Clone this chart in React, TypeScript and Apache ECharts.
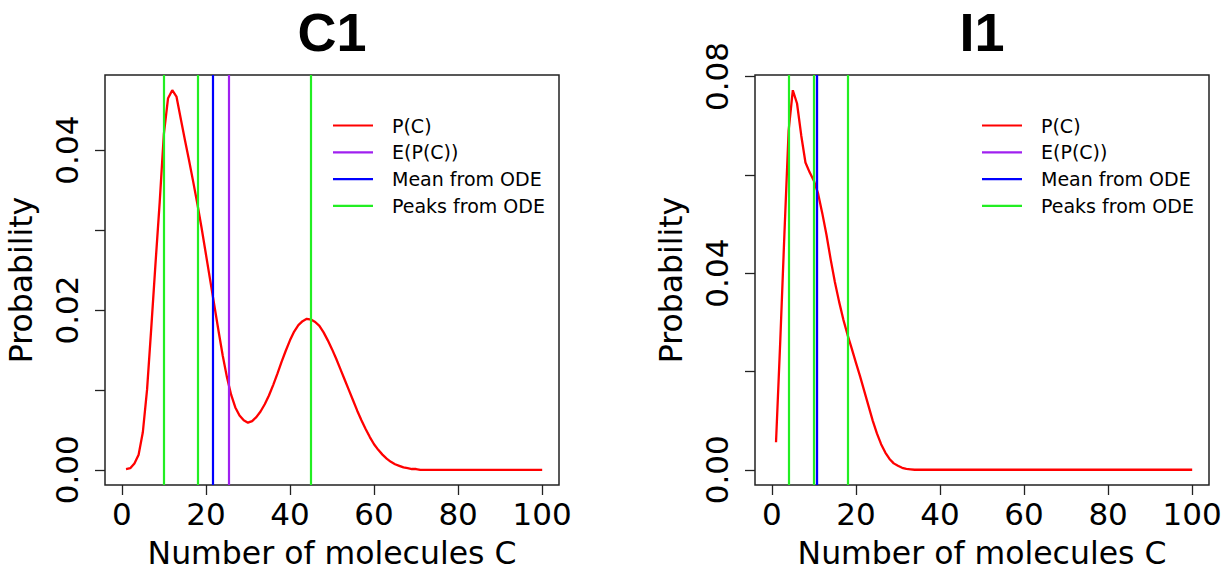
import React, { useEffect, useRef } from "react";
import * as echarts from "echarts";

// ---- data ----
const moleculeCounts = [
  1, 2, 3, 4, 5, 6, 7, 8, 9, 10, 11, 12, 13, 14, 15, 16, 17, 18, 19, 20,
  21, 22, 23, 24, 25, 26, 27, 28, 29, 30, 31, 32, 33, 34, 35, 36, 37, 38, 39, 40,
  41, 42, 43, 44, 45, 46, 47, 48, 49, 50, 51, 52, 53, 54, 55, 56, 57, 58, 59, 60,
  61, 62, 63, 64, 65, 66, 67, 68, 69, 70, 71, 72, 73, 74, 75, 76, 77, 78, 79, 80,
  81, 82, 83, 84, 85, 86, 87, 88, 89, 90, 91, 92, 93, 94, 95, 96, 97, 98, 99, 100,
];

const c1Probability = [
  0.0001, 0.0002, 0.0008, 0.0019, 0.0047, 0.01, 0.0177, 0.0257, 0.0334, 0.042,
  0.0465, 0.0475, 0.0467, 0.044, 0.0413, 0.0387, 0.036, 0.0332, 0.0302, 0.027,
  0.0238, 0.0206, 0.0174, 0.0143, 0.0116, 0.0094, 0.0078, 0.0068, 0.0062, 0.0059,
  0.0061, 0.0066, 0.0073, 0.0082, 0.0093, 0.0106, 0.012, 0.0135, 0.0149, 0.0162,
  0.0173, 0.0181, 0.0186, 0.0189, 0.0188, 0.0185, 0.018, 0.0172, 0.0162, 0.0151,
  0.0139, 0.0126, 0.0113, 0.01, 0.0087, 0.0074, 0.0062, 0.0051, 0.0041, 0.0032,
  0.0025, 0.0019, 0.0014, 0.001, 0.0007, 0.0005, 0.0003, 0.0002, 0.0001, 0.0001,
  0, 0, 0, 0, 0, 0, 0, 0, 0, 0,
  0, 0, 0, 0, 0, 0, 0, 0, 0, 0,
  0, 0, 0, 0, 0, 0, 0, 0, 0, 0,
];

const i1Probability = [
  0.0056, 0.026, 0.048, 0.069, 0.0772, 0.0745, 0.068, 0.0625, 0.0605, 0.0588,
  0.0562, 0.0522, 0.0478, 0.0428, 0.0382, 0.0342, 0.0306, 0.0275, 0.0247, 0.0218,
  0.019, 0.016, 0.013, 0.01, 0.0074, 0.0052, 0.0035, 0.0022, 0.0013, 0.0008,
  0.0004, 0.0002, 0.0001, 0, 0, 0, 0, 0, 0, 0,
  0, 0, 0, 0, 0, 0, 0, 0, 0, 0,
  0, 0, 0, 0, 0, 0, 0, 0, 0, 0,
  0, 0, 0, 0, 0, 0, 0, 0, 0, 0,
  0, 0, 0, 0, 0, 0, 0, 0, 0, 0,
  0, 0, 0, 0, 0, 0, 0, 0, 0, 0,
  0, 0, 0, 0, 0, 0, 0, 0, 0, 0,
];

const c1Expectation = [25.4];
const c1OdeMean = [21.7];
const c1OdePeaks = [10, 18, 45];

const i1Expectation = [10.6];
const i1OdeMean = [10.75];
const i1OdePeaks = [4, 10, 18];

const xTicks = [0, 20, 40, 60, 80, 100];
const c1YTicks = [0, 0.01, 0.02, 0.03, 0.04];
const c1YLabels = [0, 0.02, 0.04];
const i1YTicks = [0, 0.02, 0.04, 0.06, 0.08];
const i1YLabels = [0, 0.04, 0.08];

const panelTitles = ["C1", "I1"];
const legendNames = ["P(C)", "E(P(C))", "Mean from ODE", "Peaks from ODE"];
const legendColors = ["#FF0000", "#A020F0", "#0000FF", "#22EE22"];

const FONT = "DejaVu Sans";
const TITLE_FONT = "Liberation Sans";

export default function App() {
  const ref = useRef<HTMLDivElement>(null);

  useEffect(() => {
    if (!ref.current) return;
    const chart = echarts.init(ref.current, undefined, { renderer: "svg" });

    const panels = [
      {
        left: 105,
        probs: c1Probability,
        yMin: -0.0019,
        yMax: 0.0494,
        yTicks: c1YTicks,
        yLabels: c1YLabels,
        expectation: c1Expectation,
        mean: c1OdeMean,
        peaks: c1OdePeaks,
      },
      {
        left: 755,
        probs: i1Probability,
        yMin: -0.0031,
        yMax: 0.0803,
        yTicks: i1YTicks,
        yLabels: i1YLabels,
        expectation: i1Expectation,
        mean: i1OdeMean,
        peaks: i1OdePeaks,
      },
    ];
    const gridWidth = 454;
    const gridTop = 75;
    const gridHeight = 411;

    const grid = panels.map((p) => ({
      left: p.left,
      top: gridTop,
      width: gridWidth,
      height: gridHeight,
      show: true,
      borderColor: "#222",
      borderWidth: 1.5,
      backgroundColor: "transparent",
    }));

    const xAxis = panels.map((p, i) => ({
      type: "value",
      gridIndex: i,
      min: -4,
      max: 104,
      axisLine: { show: false, onZero: false },
      splitLine: { show: false },
      axisTick: {
        show: true,
        length: 10,
        customValues: xTicks,
        lineStyle: { color: "#222", width: 1.3 },
      },
      axisLabel: {
        customValues: xTicks,
        fontSize: 31,
        color: "#000",
        fontFamily: FONT,
        margin: 13,
      },
      name: "Number of molecules C",
      nameLocation: "middle",
      nameGap: 52,
      nameTextStyle: { fontSize: 31.5, color: "#000", fontFamily: FONT },
    }));

    const yAxis = panels.map((p, i) => ({
      type: "value",
      gridIndex: i,
      min: p.yMin,
      max: p.yMax,
      axisLine: { show: false, onZero: false },
      splitLine: { show: false },
      axisTick: {
        show: true,
        length: 10,
        customValues: p.yTicks,
        lineStyle: { color: "#222", width: 1.3 },
      },
      axisLabel: {
        customValues: p.yLabels,
        rotate: 90,
        fontSize: 31,
        color: "#000",
        fontFamily: FONT,
        margin: 23,
        formatter: (v: number) => v.toFixed(2),
      },
      name: "Probability",
      nameLocation: "middle",
      nameGap: 68,
      nameTextStyle: { fontSize: 31.5, color: "#000", fontFamily: FONT },
    }));

    const vline = (name: string, color: string, xs: number[], idx: number) => ({
      name,
      type: "line",
      xAxisIndex: idx,
      yAxisIndex: idx,
      data: [],
      silent: true,
      itemStyle: { color },
      lineStyle: { color, width: 2 },
      markLine: {
        silent: true,
        symbol: ["none", "none"],
        label: { show: false },
        emphasis: { disabled: true },
        lineStyle: { color, width: 2.2, type: "solid" },
        data: xs.map((v) => ({ xAxis: v })),
      },
    });

    const series: any[] = [];
    panels.forEach((p, i) => {
      series.push({
        name: legendNames[0],
        type: "line",
        xAxisIndex: i,
        yAxisIndex: i,
        data: moleculeCounts.map((x, k) => [x, p.probs[k]]),
        showSymbol: false,
        symbol: "none",
        smooth: false,
        silent: true,
        lineStyle: { color: legendColors[0], width: 2.3 },
        itemStyle: { color: legendColors[0] },
      });
      series.push(vline(legendNames[1], legendColors[1], p.expectation, i));
      series.push(vline(legendNames[2], legendColors[2], p.mean, i));
      series.push(vline(legendNames[3], legendColors[3], p.peaks, i));
    });

    const legendGraphics: any[] = [];
    const legendOffsets = [0, 649];
    legendOffsets.forEach((off) => {
      legendNames.forEach((name, k) => {
        const y = 125.5 + k * 26.8;
        legendGraphics.push({
          type: "line",
          silent: true,
          shape: { x1: 333 + off, y1: y, x2: 373 + off, y2: y },
          style: { stroke: legendColors[k], lineWidth: 2.2 },
        });
        legendGraphics.push({
          type: "text",
          silent: true,
          x: 392 + off,
          y,
          style: {
            text: name,
            fontSize: 19,
            fontFamily: FONT,
            fill: "#000",
            verticalAlign: "middle",
            align: "left",
          },
        });
      });
    });

    const title = panelTitles.map((t, i) => ({
      text: t,
      left: panels[i].left + gridWidth / 2,
      top: 5,
      padding: 0,
      textAlign: "center",
      textStyle: {
        fontSize: 54,
        fontWeight: "bold",
        color: "#000",
        fontFamily: TITLE_FONT,
      },
    }));

    chart.setOption({
      animation: false,
      backgroundColor: "#fff",
      textStyle: { fontFamily: FONT },
      title,
      grid,
      xAxis,
      yAxis,
      series,
      graphic: legendGraphics,
    } as any);

    return () => chart.dispose();
  }, []);

  return (
    <div
      ref={ref}
      style={{ position: "fixed", left: 0, top: 0, width: 1231, height: 574 }}
    />
  );
}
